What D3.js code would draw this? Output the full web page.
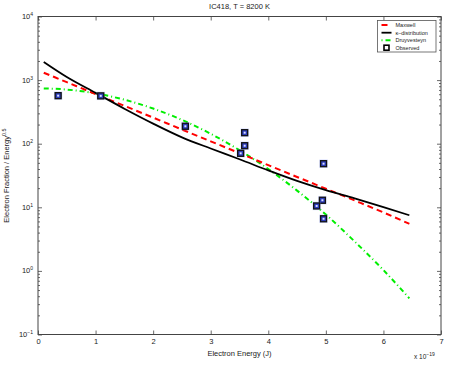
<!DOCTYPE html>
<html>
<head>
<meta charset="utf-8">
<script src="https://cdn.jsdelivr.net/npm/d3@7"></script>
<style>
  body { margin: 0; background: #fff; }
  text { font-family: "Liberation Sans", Arial, sans-serif; fill: #222; }
</style>
</head>
<body>
<svg></svg>
<script>
let width = 453;
let height = 366;

// energies in units of 1e-19 J
let energies = [0.1, 0.5, 1.0, 1.5, 2.0, 2.5, 3.0, 3.5, 4.0, 4.5, 5.0, 5.5, 6.0, 6.45];
let maxwell = [1306, 927, 604, 394, 257, 167, 109, 71, 46, 30, 19.6, 12.8, 8.3, 5.5];
let kappa = [1930, 1120, 630, 355, 207, 126, 84, 57, 38, 26, 18.6, 13.8, 10.1, 7.5];
let druyvesteyn = [741, 710, 619, 492, 357, 237, 143, 79, 40, 18.3, 7.7, 2.9, 1.03, 0.37];

let obsEnergy = [0.35, 1.09, 2.56, 3.59, 3.59, 3.52, 4.96, 4.94, 4.84, 4.96];
let obsValue = [569, 565, 188, 149, 93, 70.6, 48.5, 12.9, 10.5, 6.6];

let seriesNames = ["Maxwell", "\u03ba\u2013distribution", "Druyvesteyn", "Observed"];
let xTicks = [0, 1, 2, 3, 4, 5, 6, 7];
let yTicks = [0.1, 1, 10, 100, 1000, 10000];
let yTickExp = ["\u22121", "0", "1", "2", "3", "4"];

let plotLeft = 38, plotRight = 441, plotTop = 16.5, plotBottom = 334.5;

let xScale = d3.scaleLinear().domain([0, 7]).range([plotLeft, plotRight]);
let yScale = d3.scaleLog().domain([0.1, 10000]).range([plotBottom, plotTop]);

let svg = d3.select("svg")
    .attr("width", width)
    .attr("height", height);

svg.append("rect")
    .attr("width", width).attr("height", height).attr("fill", "#fff");

// axes, MATLAB style ticks pointing inward on all sides
let axisColor = "#444";
let minorTicks = [];
for (let d = 0.1; d < 9000; d *= 10) {
    for (let k = 2; k <= 9; k++) minorTicks.push(d * k);
}

let xBottom = d3.axisBottom(xScale).tickValues(xTicks).tickFormat(d3.format("d"))
    .tickSize(-4).tickSizeOuter(0).tickPadding(4.5);
let xTop = d3.axisTop(xScale).tickValues(xTicks).tickSize(-4).tickSizeOuter(0).tickFormat("");
let yLeft = d3.axisLeft(yScale).tickValues(yTicks).tickSize(-4).tickSizeOuter(0).tickFormat("");
let yRight = d3.axisRight(yScale).tickValues(yTicks).tickSize(-4).tickSizeOuter(0).tickFormat("");
let yLeftMinor = d3.axisLeft(yScale).tickValues(minorTicks).tickSize(-2).tickSizeOuter(0).tickFormat("");
let yRightMinor = d3.axisRight(yScale).tickValues(minorTicks).tickSize(-2).tickSizeOuter(0).tickFormat("");

let gx = svg.append("g").attr("transform", "translate(0," + plotBottom + ")").call(xBottom);
svg.append("g").attr("transform", "translate(0," + plotTop + ")").call(xTop);
svg.append("g").attr("transform", "translate(" + plotLeft + ",0)").call(yLeft);
svg.append("g").attr("transform", "translate(" + plotRight + ",0)").call(yRight);
svg.append("g").attr("transform", "translate(" + plotLeft + ",0)").call(yLeftMinor);
svg.append("g").attr("transform", "translate(" + plotRight + ",0)").call(yRightMinor);

svg.selectAll(".domain").attr("stroke", "none");
svg.selectAll(".tick line").attr("stroke", axisColor).attr("stroke-width", 0.8);
gx.selectAll("text").style("font-size", "7.5px").attr("fill", "#222");

svg.append("rect")
    .attr("x", plotLeft).attr("y", plotTop)
    .attr("width", plotRight - plotLeft).attr("height", plotBottom - plotTop)
    .attr("fill", "none").attr("stroke", axisColor).attr("stroke-width", 1);

// y tick labels as 10^n
yTicks.forEach((v, i) => {
    let t = svg.append("text")
        .attr("x", plotLeft - 5)
        .attr("y", yScale(v) + 2.5)
        .attr("text-anchor", "end")
        .style("font-size", "7.5px");
    t.append("tspan").text("10");
    t.append("tspan").attr("dy", -3).style("font-size", "5px").text(yTickExp[i]);
});

// exponent note
let xn = svg.append("text")
    .attr("x", 414).attr("y", 359)
    .style("font-size", "6.5px");
xn.append("tspan").text("x 10");
xn.append("tspan").attr("dy", -3).style("font-size", "5px").text("\u221219");

// labels
svg.append("text")
    .attr("x", (plotLeft + plotRight) / 2).attr("y", 9)
    .attr("text-anchor", "middle")
    .style("font-size", "7.5px")
    .text("IC418, T = 8200 K");

svg.append("text")
    .attr("x", (plotLeft + plotRight) / 2).attr("y", 355.5)
    .attr("text-anchor", "middle")
    .style("font-size", "7.5px")
    .text("Electron Energy (J)");

let yl = svg.append("text")
    .attr("transform", "translate(9," + ((plotTop + plotBottom) / 2) + ") rotate(-90)")
    .attr("text-anchor", "middle")
    .style("font-size", "7.5px");
yl.append("tspan").text("Electron Fraction / Energy");
yl.append("tspan").attr("dy", -3).style("font-size", "5.5px").text("0.5");

// curves
let line = values => d3.line()
    .x((d, i) => xScale(energies[i]))
    .y(d => yScale(d))
    .curve(d3.curveMonotoneX)(values);

let plot = svg.append("g");

plot.append("path")
    .attr("d", line(druyvesteyn))
    .attr("fill", "none")
    .attr("stroke", "#00ee00")
    .attr("stroke-width", 2)
    .attr("stroke-dasharray", "5,3,1,3");

plot.append("path")
    .attr("d", line(maxwell))
    .attr("fill", "none")
    .attr("stroke", "#ff0000")
    .attr("stroke-width", 2)
    .attr("stroke-dasharray", "6,4");

plot.append("path")
    .attr("d", line(kappa))
    .attr("fill", "none")
    .attr("stroke", "#000")
    .attr("stroke-width", 1.8);

// observed markers
let obs = obsEnergy.map((e, i) => ({ e: e, v: obsValue[i] }));
let marks = plot.selectAll("g.obs")
    .data(obs)
    .enter()
    .append("g")
    .attr("class", "obs")
    .attr("transform", d => "translate(" + xScale(d.e) + "," + yScale(d.v) + ")");

marks.append("rect")
    .attr("x", -4.2).attr("y", -4.2).attr("width", 8.4).attr("height", 8.4)
    .attr("fill", "#8898ff").attr("opacity", 0.35);
marks.append("rect")
    .attr("x", -3).attr("y", -3).attr("width", 6).attr("height", 6)
    .attr("fill", "#2a3ab8").attr("stroke", "#111").attr("stroke-width", 1.3);
marks.append("rect")
    .attr("x", -1).attr("y", -1).attr("width", 2).attr("height", 2)
    .attr("fill", "#d8ddff");

// legend
let legend = svg.append("g").attr("transform", "translate(377.5,20.5)");
legend.append("rect")
    .attr("width", 58.5).attr("height", 31.5)
    .attr("fill", "#fff").attr("stroke", "#555").attr("stroke-width", 0.8);

let legendY = [4.5, 12.2, 19.8, 27.2];
let legendStyles = [
    { stroke: "#ff0000", dash: "6,4", w: 2 },
    { stroke: "#000", dash: null, w: 1.8 },
    { stroke: "#00ee00", dash: "1,3,5,3", w: 2 }
];
legendStyles.forEach((s, i) => {
    legend.append("line")
        .attr("x1", 4).attr("x2", 14)
        .attr("y1", legendY[i]).attr("y2", legendY[i])
        .attr("stroke", s.stroke).attr("stroke-width", s.w)
        .attr("stroke-dasharray", s.dash);
});
legend.append("rect")
    .attr("x", 6.5).attr("y", legendY[3] - 2.5).attr("width", 5).attr("height", 5)
    .attr("fill", "#fff").attr("stroke", "#000").attr("stroke-width", 1.6);

seriesNames.forEach((name, i) => {
    legend.append("text")
        .attr("x", 18).attr("y", legendY[i] + 2)
        .style("font-size", "5.5px")
        .text(name);
});
</script>
</body>
</html>
